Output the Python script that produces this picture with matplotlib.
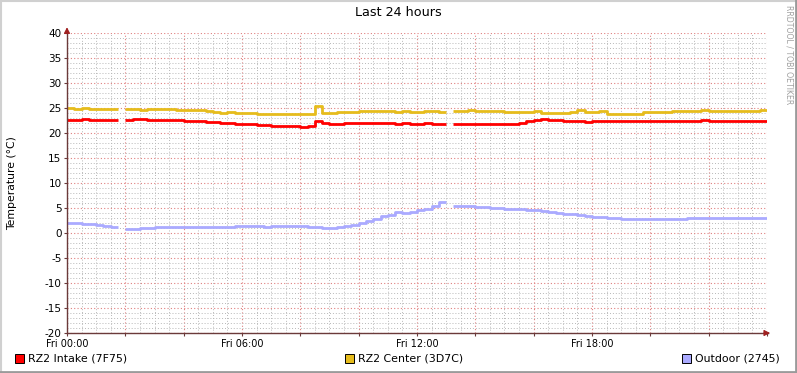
import numpy as np
import matplotlib
matplotlib.use('Agg')
import matplotlib.pyplot as plt
from matplotlib.patches import Rectangle
from matplotlib.lines import Line2D
from matplotlib.ticker import MultipleLocator, FuncFormatter

plt.rcParams['font.family'] = ['DejaVu Sans']
plt.rcParams['axes.unicode_minus'] = False

# 15 minute samples over the last 24 hours (hours since Fri 00:00)
hours = np.arange(0, 24.01, 0.25)
nan = np.nan

intake = [
    22.7, 22.7, 22.8, 22.7, 22.7, 22.7, 22.7, nan,
    22.7, 22.8, 22.9, 22.7, 22.7, 22.6, 22.6, 22.6,
    22.5, 22.5, 22.5, 22.3, 22.2, 22.0, 22.0, 21.9,
    21.8, 21.8, 21.7, 21.6, 21.5, 21.5, 21.5, 21.4,
    21.3, 21.4, 22.5, 22.0, 21.9, 21.9, 22.0, 22.0,
    22.1, 22.1, 22.1, 22.1, 22.0, 21.9, 22.0, 21.9,
    21.9, 22.0, 21.9, 21.9, nan, 21.9, 21.9, 21.9,
    21.9, 21.9, 21.9, 21.9, 21.9, 21.9, 22.0, 22.5,
    22.6, 22.9, 22.7, 22.6, 22.5, 22.5, 22.5, 22.2,
    22.5, 22.5, 22.5, 22.5, 22.5, 22.5, 22.5, 22.5,
    22.5, 22.5, 22.5, 22.5, 22.5, 22.5, 22.5, 22.7,
    22.5, 22.5, 22.5, 22.5, 22.5, 22.5, 22.5, 22.5,
    22.5,
]

center = [
    25.0, 24.9, 25.0, 24.9, 24.9, 24.8, 24.9, nan,
    24.9, 24.8, 24.6, 24.8, 24.8, 24.9, 24.8, 24.7,
    24.7, 24.6, 24.6, 24.5, 24.3, 24.1, 24.2, 24.0,
    24.0, 24.0, 23.9, 23.9, 23.8, 23.8, 23.8, 23.8,
    23.8, 23.9, 25.5, 24.1, 24.0, 24.2, 24.3, 24.2,
    24.4, 24.5, 24.4, 24.4, 24.4, 24.2, 24.4, 24.3,
    24.3, 24.4, 24.5, 24.3, nan, 24.5, 24.5, 24.6,
    24.5, 24.5, 24.4, 24.5, 24.3, 24.2, 24.2, 24.3,
    24.5, 24.1, 24.1, 24.1, 24.1, 24.2, 24.6, 24.3,
    24.2, 24.4, 23.9, 23.9, 23.9, 23.9, 23.9, 24.2,
    24.2, 24.2, 24.2, 24.4, 24.5, 24.5, 24.5, 24.6,
    24.5, 24.5, 24.4, 24.5, 24.5, 24.4, 24.5, 24.6,
    24.6,
]

outdoor = [
    2.1, 2.0, 1.9, 1.8, 1.7, 1.5, 1.3, nan,
    0.9, 0.9, 1.0, 1.1, 1.2, 1.3, 1.2, 1.2,
    1.3, 1.2, 1.3, 1.2, 1.2, 1.3, 1.3, 1.4,
    1.4, 1.5, 1.4, 1.3, 1.4, 1.4, 1.4, 1.4,
    1.4, 1.3, 1.3, 1.1, 1.1, 1.3, 1.4, 1.6,
    2.0, 2.5, 2.9, 3.4, 3.6, 4.2, 4.1, 4.3,
    4.7, 4.8, 5.4, 6.2, nan, 5.5, 5.5, 5.4,
    5.3, 5.2, 5.1, 5.1, 4.9, 4.8, 4.8, 4.7,
    4.6, 4.5, 4.3, 4.0, 3.9, 3.9, 3.7, 3.5,
    3.3, 3.3, 3.1, 3.0, 2.8, 2.8, 2.8, 2.8,
    2.8, 2.8, 2.8, 2.9, 2.8, 3.0, 3.0, 3.1,
    3.0, 3.0, 3.0, 3.0, 3.0, 3.0, 3.0, 3.0,
    3.0,
]

series_names = ['RZ2 Intake (7F75)', 'RZ2 Center (3D7C)', 'Outdoor (2745)']
series_colors = ['#FF0000', '#E6BC1C', '#AAAAFF']
tick_hours = [0, 6, 12, 18]
tick_labels = ['Fri 00:00', 'Fri 06:00', 'Fri 12:00', 'Fri 18:00']

W, H = 797, 373
fig = plt.figure(figsize=(W / 100, H / 100), dpi=100)
fig.patch.set_facecolor('white')

# plot area in pixels: x 67..767, y 33..333
ax = fig.add_axes([67 / W, (H - 333) / H, 700 / W, 300 / H])
ax.set_facecolor('white')
ax.set_xlim(0, 24)
ax.set_ylim(-20, 40)

# grid like rrdtool: dotted gray minor, dotted red major
ax.xaxis.set_major_locator(MultipleLocator(2))
ax.xaxis.set_minor_locator(MultipleLocator(0.5))
ax.yaxis.set_major_locator(MultipleLocator(5))
ax.yaxis.set_minor_locator(MultipleLocator(1))
ax.grid(True, which='minor', color='#B8B8B8', linestyle=(0, (1, 2)), linewidth=0.7)
ax.grid(True, which='major', color='#E08080', linestyle=(0, (1, 2)), linewidth=0.8)
ax.set_axisbelow(True)

lbl = dict(zip(tick_hours, tick_labels))
ax.xaxis.set_major_formatter(FuncFormatter(lambda v, p: lbl.get(int(round(v)), '') if abs(v - round(v)) < 1e-6 else ''))
ax.tick_params(axis='x', which='major', length=2, color='#6B3A3A', labelsize=7, pad=2)
ax.tick_params(axis='y', which='major', length=2, color='#6B3A3A', labelsize=7.5, pad=2)
ax.tick_params(which='minor', length=0)

for side in ['top', 'right']:
    ax.spines[side].set_visible(False)
for side in ['left', 'bottom']:
    ax.spines[side].set_color('#6B3A3A')
    ax.spines[side].set_linewidth(1)

for vals, col in zip([intake, center, outdoor], series_colors):
    ax.step(hours, vals, where='post', color=col, linewidth=2.0, solid_capstyle='butt')

# axis arrows
ax.annotate('', xy=(0, 41.7), xytext=(0, 39.9), annotation_clip=False,
            arrowprops=dict(arrowstyle='-|>,head_length=0.35,head_width=0.18', color='#A02020', lw=0.8))
ax.annotate('', xy=(24.2, -20), xytext=(23.8, -20), annotation_clip=False,
            arrowprops=dict(arrowstyle='-|>,head_length=0.35,head_width=0.18', color='#A02020', lw=0.8))
ax.plot([24, 24.05], [-20, -20], color='#6B3A3A', lw=1, clip_on=False)

# labels
fig.text(398 / W, 1 - 13 / H, 'Last 24 hours', ha='center', va='center', fontsize=9.2)
fig.text(12 / W, 1 - 183 / H, 'Temperature (°C)', rotation=90, ha='center', va='center', fontsize=7.8)
fig.text(789 / W, 1 - 5 / H, 'RRDTOOL / TOBI OETIKER', rotation=270, ha='center', va='top',
         fontsize=5.6, color='#A0A0A0')

# legend
legend_x = [15, 345, 682]
for x0, name, col in zip(legend_x, series_names, series_colors):
    fig.patches.append(Rectangle((x0 / W, 1 - 363 / H), 9 / W, 9 / H, transform=fig.transFigure,
                                 facecolor=col, edgecolor='black', linewidth=0.7))
    fig.text((x0 + 13) / W, 1 - 358.5 / H, name, ha='left', va='center', fontsize=7.9)

# outer frame
fig.add_artist(Line2D([0, 1], [1 - 0.5 / H, 1 - 0.5 / H], transform=fig.transFigure, color='#D0D0D0', lw=1.5))
fig.add_artist(Line2D([0.5 / W, 0.5 / W], [0, 1], transform=fig.transFigure, color='#D0D0D0', lw=1.5))
fig.add_artist(Line2D([1 - 1 / W, 1 - 1 / W], [0, 1], transform=fig.transFigure, color='#9A9A9A', lw=2))
fig.add_artist(Line2D([0, 1], [1 / H, 1 / H], transform=fig.transFigure, color='#9A9A9A', lw=2))

fig.savefig('out.png', dpi=100)
plt.close(fig)
